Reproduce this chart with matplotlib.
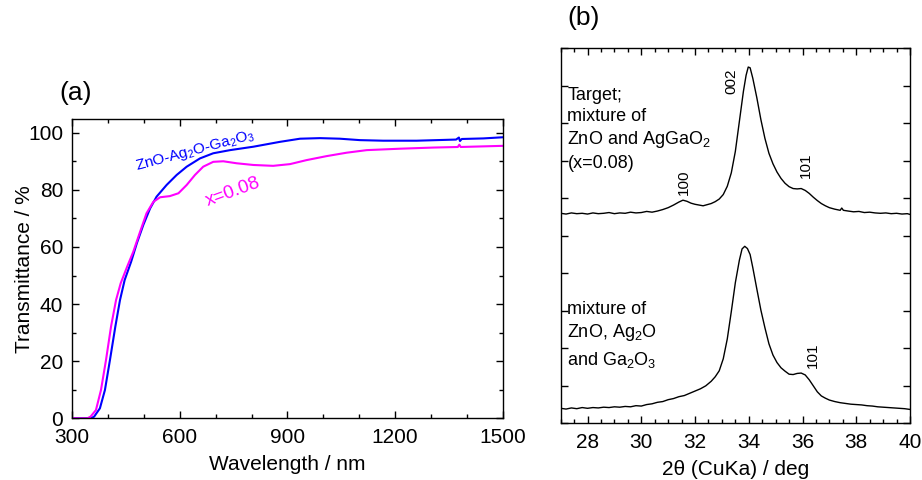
import matplotlib
matplotlib.use('Agg')
import matplotlib.pyplot as plt
from matplotlib.ticker import MultipleLocator

plt.rcParams['font.family'] = ['Liberation Sans', 'DejaVu Sans']
plt.rcParams['mathtext.fontset'] = 'custom'
plt.rcParams['mathtext.rm'] = 'Liberation Sans'
plt.rcParams['mathtext.it'] = 'Liberation Sans:italic'

# (a) transmittance spectra
wl_blue = [300, 352, 361, 377, 391, 405, 420, 433, 446, 464, 480, 498, 517, 535, 563,
           591, 619, 656, 693, 740, 805, 879, 935, 991, 1046, 1102, 1167, 1260, 1370,
           1378, 1381, 1386, 1446, 1500]
tr_blue = [0, 0, 0.6, 3.5, 9.9, 20.4, 32.1, 41.4, 48.4, 54.8, 61.3, 67.7, 73.5, 77.6, 81.7,
           85.2, 88.1, 91.0, 92.8, 93.9, 95.1, 96.8, 97.9, 98.1, 97.9, 97.4, 97.2, 97.2, 97.6,
           98.3, 97.1, 97.8, 98.0, 98.4]

wl_mag = [300, 342, 351, 366, 380, 394, 408, 422, 435, 453, 470, 489, 507, 526, 545,
          572, 596, 619, 642, 665, 693, 721, 758, 805, 860, 907, 953, 1009, 1065, 1121,
          1214, 1307, 1375, 1379, 1383, 1500]
tr_mag = [0, 0, 0.6, 2.9, 9.9, 20.4, 32.1, 41.4, 47.3, 53.1, 58.3, 65.3, 71.8, 75.8, 77.4,
          77.8, 78.8, 81.7, 85.2, 88.1, 89.8, 90.0, 89.3, 88.7, 88.4, 89.0, 90.4, 91.8, 93.0, 93.9,
          94.4, 94.8, 95.0, 95.8, 95.0, 95.4]

# (b) XRD patterns (arbitrary intensity)
tt_top = [27.0, 27.2, 27.4, 27.6, 27.8, 28.0, 28.2, 28.4, 28.6, 28.8, 29.0, 29.2, 29.4,
          29.6, 29.8, 30.0, 30.2, 30.4, 30.6, 30.8, 31.0, 31.2, 31.4, 31.55, 31.7, 31.85,
          32.0, 32.15, 32.3, 32.45, 32.6, 32.75, 32.9, 33.05, 33.2, 33.35, 33.5, 33.65,
          33.8, 33.9, 33.98, 34.05, 34.15, 34.3, 34.45, 34.6, 34.75, 34.9, 35.05, 35.2,
          35.35, 35.5, 35.65, 35.8, 35.95, 36.1, 36.25, 36.4, 36.55, 36.7, 36.85, 37.0,
          37.2, 37.4, 37.46, 37.52, 37.7, 37.9, 38.1, 38.3, 38.5, 38.7, 38.9, 39.1, 39.3,
          39.5, 39.7, 39.9, 40.0]
int_top = [56.0, 55.8, 56.1, 55.9, 56.0, 55.8, 56.1, 55.9, 56.0, 56.2, 55.9, 56.1, 56.0,
           56.3, 56.1, 56.2, 56.5, 56.3, 56.6, 57.0, 57.5, 58.2, 59.0, 59.5, 59.2, 58.7,
           58.4, 58.2, 58.0, 58.3, 58.6, 59.1, 59.8, 61.0, 63.2, 66.8, 72.5, 80.5,
           88.5, 92.8, 95.0, 94.8, 92.0, 86.8, 81.0, 76.0, 72.0, 69.2, 67.0, 65.3,
           64.0, 63.1, 62.6, 62.5, 62.6, 62.1, 61.3, 60.3, 59.4, 58.6, 58.0, 57.5,
           57.1, 56.8, 57.4, 56.8, 56.6, 56.4, 56.5, 56.2, 56.3, 56.1, 56.0, 56.1, 55.9,
           56.0, 55.8, 55.9, 55.7]

tt_bot = [27.0, 27.2, 27.4, 27.6, 27.8, 28.0, 28.2, 28.4, 28.6, 28.8, 29.0, 29.2, 29.4,
          29.6, 29.8, 30.0, 30.2, 30.4, 30.6, 30.8, 31.0, 31.2, 31.4, 31.6, 31.8, 32.0,
          32.2, 32.4, 32.6, 32.75, 32.9, 33.05, 33.2, 33.35, 33.5, 33.65, 33.75, 33.85,
          33.95, 34.05, 34.15, 34.3, 34.45, 34.6, 34.75, 34.9, 35.05, 35.2, 35.35, 35.5,
          35.65, 35.8, 35.95, 36.1, 36.25, 36.4, 36.55, 36.7, 36.85, 37.0, 37.2, 37.4,
          37.6, 37.8, 38.0, 38.2, 38.4, 38.6, 38.8, 39.0, 39.2, 39.4, 39.6, 39.8, 40.0]
int_bot = [4.0, 3.8, 4.1, 3.9, 4.2, 4.0, 4.2, 4.1, 4.3, 4.2, 4.4, 4.3, 4.5,
           4.4, 4.7, 4.6, 5.0, 5.2, 5.6, 5.8, 6.3, 6.6, 7.1, 7.4, 8.0, 8.6,
           9.2, 10.0, 11.2, 12.4, 14.0, 17.2, 22.5, 29.8, 37.5, 43.5, 46.5, 47.2,
           46.6, 45.0, 41.5, 35.8, 30.2, 25.5, 21.2, 18.2, 16.2, 14.8, 13.9, 13.1,
           13.0, 13.3, 13.4, 12.9, 11.6, 10.0, 8.4, 7.3, 6.7, 6.2, 5.8, 5.5,
           5.3, 5.1, 5.0, 4.9, 4.7, 4.6, 4.4, 4.3, 4.2, 4.1, 4.0, 3.9, 3.7]


def style_axes(ax):
    ax.tick_params(which='both', direction='in', top=True, right=True,
                   labelsize=15, width=1)
    ax.tick_params(which='major', length=5)
    ax.tick_params(which='minor', length=3)
    ax.tick_params(axis='x', which='major', pad=7)
    ax.tick_params(axis='y', which='major', pad=6.5)
    for s in ax.spines.values():
        s.set_linewidth(1)


def plot_transmittance(ax):
    ax.plot(wl_blue, tr_blue, color='#0000ff', lw=1.5)
    ax.plot(wl_mag, tr_mag, color='#ff00ff', lw=1.5)
    ax.set_xlim(300, 1500)
    ax.set_ylim(0, 104.7)
    ax.xaxis.set_major_locator(MultipleLocator(300))
    ax.xaxis.set_minor_locator(MultipleLocator(100))
    ax.yaxis.set_major_locator(MultipleLocator(20))
    ax.yaxis.set_minor_locator(MultipleLocator(10))
    ax.set_xlabel('Wavelength / nm', fontsize=15, labelpad=6)
    ax.set_ylabel('Transmittance / %', fontsize=15, labelpad=-4)
    style_axes(ax)
    ax.text(644, 93.7, 'ZnO-Ag$_2$O-Ga$_2$O$_3$', color='#0000ff', fontsize=11,
            rotation=15, ha='center', va='center')
    ax.text(749, 79.3, 'x=0.08', color='#ff00ff', fontsize=13.5,
            rotation=20, ha='center', va='center')


def plot_xrd(ax):
    ax.plot(tt_top, int_top, color='black', lw=1)
    ax.plot(tt_bot, int_bot, color='black', lw=1)
    ax.set_xlim(27, 40)
    ax.set_ylim(0, 100)
    ax.xaxis.set_major_locator(MultipleLocator(2))
    ax.xaxis.set_minor_locator(MultipleLocator(0.5))
    ax.yaxis.set_major_locator(MultipleLocator(10))
    ax.set_xlabel('2\u03b8 (CuKa) / deg', fontsize=15, labelpad=6)
    style_axes(ax)
    ax.tick_params(axis='y', labelleft=False)

    # sample descriptions
    top_lines = ['Target;', 'mixture of', 'ZnO and AgGaO$_2$', '(x=0.08)']
    top_y = [86.2, 80.7, 74.5, 68.1]
    for s, y in zip(top_lines, top_y):
        ax.text(27.25, y, s, fontsize=13, va='baseline')
    bot_lines = ['mixture of', 'ZnO, Ag$_2$O', 'and Ga$_2$O$_3$']
    bot_y = [29.1, 23.1, 15.5]
    for s, y in zip(bot_lines, bot_y):
        ax.text(27.25, y, s, fontsize=13, va='baseline')

    # peak indices
    ax.text(33.35, 91.1, '002', rotation=90, fontsize=11, ha='center', va='center')
    ax.text(31.57, 64.4, '100', rotation=90, fontsize=11, ha='center', va='center')
    ax.text(36.12, 68.7, '101', rotation=90, fontsize=11, ha='center', va='center')
    ax.text(36.40, 18.2, '101', rotation=90, fontsize=11, ha='center', va='center')


if __name__ == '__main__':
    fig = plt.figure(figsize=(9.22, 4.8), dpi=100)
    ax_a = fig.add_axes([0.0784, 0.1285, 0.4668, 0.623])
    ax_b = fig.add_axes([0.6081, 0.1181, 0.3789, 0.7813])
    plot_transmittance(ax_a)
    plot_xrd(ax_b)
    fig.text(0.064, 0.806, '(a)', fontsize=19, va='center')
    fig.text(0.615, 0.9625, '(b)', fontsize=19, va='center')
    fig.savefig('out.png', dpi=100)
